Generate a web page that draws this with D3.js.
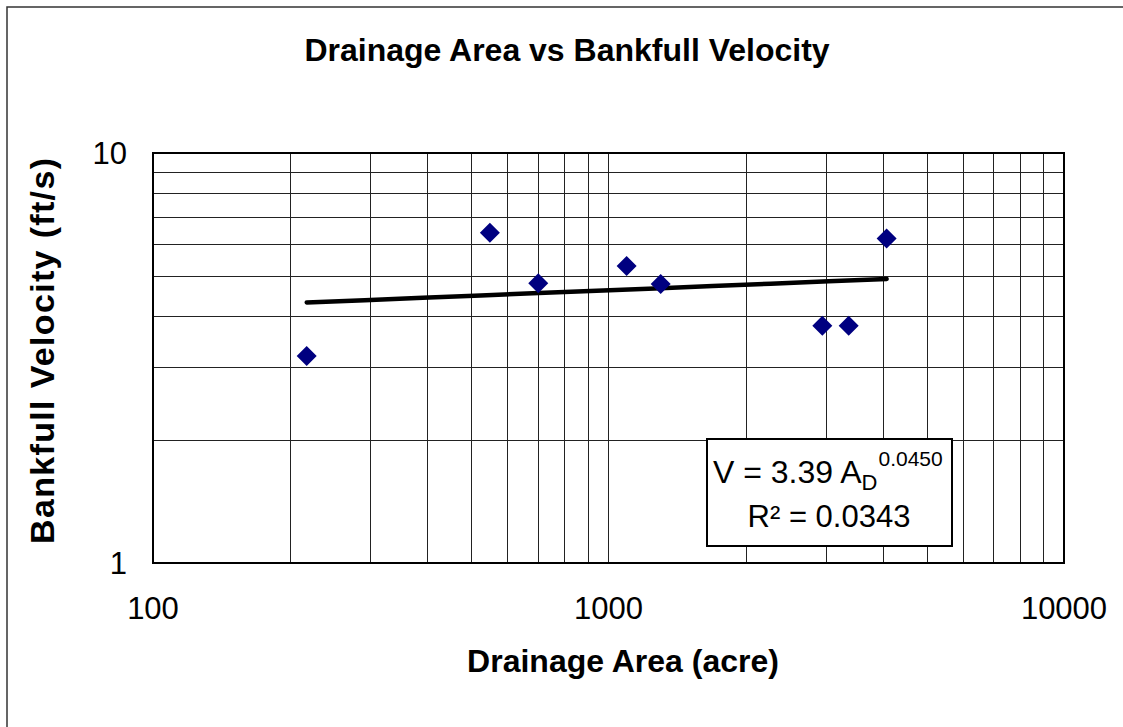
<!DOCTYPE html>
<html>
<head>
<meta charset="utf-8">
<script src="https://cdn.jsdelivr.net/npm/d3@7"></script>
<style>
html,body{margin:0;padding:0;background:#fff;}
svg{display:block;}
text{font-family:"Liberation Sans",Arial,sans-serif;fill:#000;}
</style>
</head>
<body>
<svg id="chart" width="1123" height="727"></svg>
<script>
// ---- data ----
const drainageArea = [217.5, 549, 701, 1096, 1302, 2947, 3368, 4080];   // acre
const bankfullVelocity = [3.20, 6.39, 4.81, 5.30, 4.79, 3.79, 3.79, 6.19]; // ft/s
const xTickLabels = [100, 1000, 10000];
const yTickLabels = [1, 10];
const fitCoefficient = [3.39];   // a in V = a * A^b
const fitExponent = [0.0450];    // b
const rSquared = [0.0343];
const chartTitle = "Drainage Area vs Bankfull Velocity";
const xTitle = "Drainage Area (acre)";
const yTitle = "Bankfull Velocity (ft/s)";

// ---- layout ----
const svg = d3.select("#chart");
const L = 153, R = 1064, T = 153, B = 563;

const x = d3.scaleLog().domain([100, 10000]).range([L, R]);
const y = d3.scaleLog().domain([1, 10]).range([B, T]);

// outer border
svg.append("rect").attr("x", 7).attr("y", 7).attr("width", 1140).attr("height", 740)
  .attr("fill", "none").attr("stroke", "#333").attr("stroke-width", 1.5);

// gridlines
const xGrid = [];
for (let d = 100; d < 10000; d *= 10) for (let k = 1; k <= 10; k++) xGrid.push(d * k);
const yGrid = [];
for (let k = 1; k <= 10; k++) yGrid.push(k);

const g = svg.append("g");
g.selectAll("line.xg").data([...new Set(xGrid)]).enter().append("line")
  .attr("x1", d => Math.round(x(d)) + 0.5).attr("x2", d => Math.round(x(d)) + 0.5)
  .attr("y1", T).attr("y2", B).attr("stroke", "#222").attr("stroke-width", 1);
g.selectAll("line.yg").data(yGrid).enter().append("line")
  .attr("y1", d => Math.round(y(d)) + 0.5).attr("y2", d => Math.round(y(d)) + 0.5)
  .attr("x1", L).attr("x2", R).attr("stroke", "#222").attr("stroke-width", 1);

// plot border
svg.append("rect").attr("x", L).attr("y", T).attr("width", R - L).attr("height", B - T)
  .attr("fill", "none").attr("stroke", "#000").attr("stroke-width", 2);

// axes tick labels
svg.selectAll("text.xt").data(xTickLabels).enter().append("text")
  .attr("x", d => x(d)).attr("y", 619).attr("text-anchor", "middle")
  .attr("font-size", 31).text(d => d);
svg.selectAll("text.yt").data(yTickLabels).enter().append("text")
  .attr("x", 127).attr("y", d => y(d) + 11).attr("text-anchor", "end")
  .attr("font-size", 31).text(d => d);

// trend line
const a = fitCoefficient[0], b = fitExponent[0];
const xs = d3.extent(drainageArea);
const trendX = d3.range(0, 11).map(i => xs[0] * Math.pow(xs[1] / xs[0], i / 10));
const line = d3.line().x(d => x(d)).y(d => y(a * Math.pow(d, b)));
svg.append("path").datum(trendX).attr("d", line).attr("fill", "none")
  .attr("stroke", "#000").attr("stroke-width", 4.5).attr("stroke-linecap", "round");

// markers
const pts = drainageArea.map((d, i) => [d, bankfullVelocity[i]]);
svg.selectAll("path.pt").data(pts).enter().append("path")
  .attr("transform", d => `translate(${x(d[0])},${y(d[1])})`)
  .attr("d", "M0,-10L10,0L0,10L-10,0Z").attr("fill", "#000080");

// equation box
const box = svg.append("g");
box.append("rect").attr("x", 707).attr("y", 439).attr("width", 245).attr("height", 107)
  .attr("fill", "#fff").attr("stroke", "#000").attr("stroke-width", 2);
const eq = box.append("text").attr("x", 713).attr("y", 483).attr("font-size", 32);
eq.append("tspan").text("V = " + a.toFixed(2) + " A");
eq.append("tspan").attr("font-size", 22).attr("dy", 7).text("D");
eq.append("tspan").attr("font-size", 21).attr("dy", -24).attr("dx", 1).text(b.toFixed(4));
box.append("text").attr("x", 829).attr("y", 527).attr("text-anchor", "middle")
  .attr("font-size", 31).text("R² = " + rSquared[0].toFixed(4));

// titles
svg.append("text").attr("x", 567).attr("y", 61).attr("text-anchor", "middle")
  .attr("font-size", 32).attr("font-weight", "bold").text(chartTitle);
svg.append("text").attr("x", 623).attr("y", 672).attr("text-anchor", "middle")
  .attr("font-size", 32).attr("font-weight", "bold").text(xTitle);
svg.append("text").attr("transform", "translate(54,351) rotate(-90)").attr("text-anchor", "middle")
  .attr("font-size", 34).attr("font-weight", "bold")
  .attr("textLength", 386).attr("lengthAdjust", "spacing").text(yTitle);
</script>
</body>
</html>
